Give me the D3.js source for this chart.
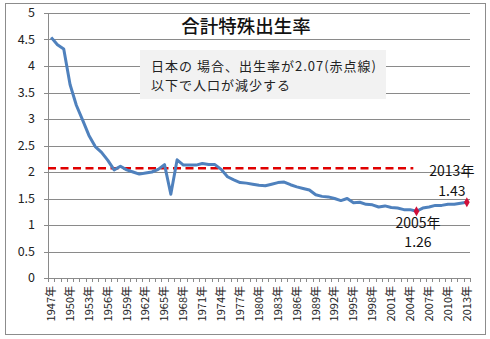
<!DOCTYPE html>
<html><head><meta charset="utf-8">
<script src="https://cdn.jsdelivr.net/npm/d3@7"></script>
<style>body{margin:0;background:#fff}svg{display:block}</style>
</head><body><svg id="c" width="490" height="339"></svg>
<script>
const years = d3.range(1947, 2014);
const tfr = [4.54,4.40,4.32,3.65,3.26,2.98,2.69,2.48,2.37,2.22,2.04,2.11,2.04,2.00,1.96,1.98,2.00,2.05,2.14,1.58,2.23,2.13,2.13,2.13,2.16,2.14,2.14,2.05,1.91,1.85,1.80,1.79,1.77,1.75,1.74,1.77,1.80,1.81,1.76,1.72,1.69,1.66,1.57,1.54,1.53,1.50,1.46,1.50,1.42,1.43,1.39,1.38,1.34,1.36,1.33,1.32,1.29,1.29,1.26,1.32,1.34,1.37,1.37,1.39,1.39,1.41,1.43];
const yTicks = [0,0.5,1,1.5,2,2.5,3,3.5,4,4.5,5];
const yTickLabels = ["0","0.5","1","1.5","2","2.5","3","3.5","4","4.5","5"];
const replacement = 2.07;
const replacementEndYear = 2004;
const marked = [{year:2005, value:1.26}, {year:2013, value:1.43}];
const title = "合計特殊出生率";
const noteLines = ["日本の 場合、出生率が2.07(赤点線)", "以下で人口が減少する"];

const svg = d3.select("#c");
const L = 48, R = 470, T = 13, B = 278;
const font = "'Noto Sans CJK JP', sans-serif";

svg.append("rect").attr("x",5.5).attr("y",3.5).attr("width",480).attr("height",331)
  .attr("fill","#fff").attr("stroke","#8c8c8c").attr("stroke-width",1);

const x = d3.scaleBand().domain(years).range([L, R]).padding(0);
const y = d3.scaleLinear().domain([0,5]).range([B, T]);
const bw = x.bandwidth();
const cx = yr => x(yr) + bw/2;

// gridlines
svg.append("g").selectAll("line").data(yTicks).join("line")
  .attr("x1", L-4).attr("x2", R).attr("y1", d=>Math.round(y(d))+0.5).attr("y2", d=>Math.round(y(d))+0.5)
  .attr("stroke","#8a8a8a").attr("stroke-width",1);
// y labels
svg.append("g").selectAll("text").data(yTicks).join("text")
  .attr("x", 35).attr("y", d=>y(d)).attr("dy","0.35em").attr("text-anchor","end")
  .attr("font-family", font).attr("font-size", 12.5).attr("fill","#222")
  .text((d,i)=>yTickLabels[i]);
// y axis line
svg.append("line").attr("x1",L+0.5).attr("x2",L+0.5).attr("y1",T).attr("y2",B+4)
  .attr("stroke","#8a8a8a");
// x ticks
const bounds = years.map(yr=>x(yr)).concat([R]);
svg.append("g").selectAll("line").data(bounds).join("line")
  .attr("x1", d=>Math.round(d)+0.5).attr("x2", d=>Math.round(d)+0.5).attr("y1", B).attr("y2", B+4)
  .attr("stroke","#8a8a8a");
// x labels
svg.append("g").selectAll("text").data(years.filter((d,i)=>i%3===0)).join("text")
  .attr("transform", d=>`translate(${cx(d)},286) rotate(-90)`)
  .attr("text-anchor","end").attr("dy","0.35em")
  .attr("font-family", font).attr("font-size", 11).attr("fill","#222")
  .text(d=>d+"年");

// title
svg.append("text").attr("x",246).attr("y",33).attr("text-anchor","middle")
  .attr("font-family", font).attr("font-size",18.5).attr("font-weight",500).attr("fill","#111")
  .text(title);

// note box
svg.append("rect").attr("x",140).attr("y",50).attr("width",246).attr("height",49).attr("fill","#f2f2f2");
svg.append("g").selectAll("text").data(noteLines).join("text")
  .attr("x",151).attr("y",(d,i)=>71+i*19)
  .attr("font-family", font).attr("font-size",13).attr("letter-spacing",1).attr("fill","#222")
  .text(d=>d);

// replacement dashed line
svg.append("line").attr("x1",L).attr("x2",x(replacementEndYear)+bw)
  .attr("y1",y(replacement)).attr("y2",y(replacement))
  .attr("stroke","#e00000").attr("stroke-width",2.6).attr("stroke-dasharray","8,4.5");

// data line
svg.append("path").datum(tfr)
  .attr("d", d3.line().x((d,i)=>cx(years[i])).y(d=>y(d)))
  .attr("fill","none").attr("stroke","#4f81bd").attr("stroke-width",3).attr("stroke-linejoin","round");

// markers
svg.append("g").selectAll("path").data(marked).join("path")
  .attr("d", d3.symbol(d3.symbolDiamond, 28))
  .attr("transform", d=>`translate(${cx(d.year)},${y(d.value)})`)
  .attr("fill","#d0103a");

// annotations
const ann = [
  {yr:2013, v:1.43, dx:-15, lines:[["2013年",-26],["1.43",-6]]},
  {yr:2005, v:1.26, dx:1.5, lines:[["2005年",17],["1.26",36]]}
];
ann.forEach(a=>{
  a.lines.forEach(([t,dy])=>{
    svg.append("text").attr("x", cx(a.yr)+a.dx).attr("y", y(a.v)+dy).attr("text-anchor","middle")
      .attr("font-family", font).attr("font-size",14).attr("fill","#111").text(t);
  });
});
</script></body></html>
